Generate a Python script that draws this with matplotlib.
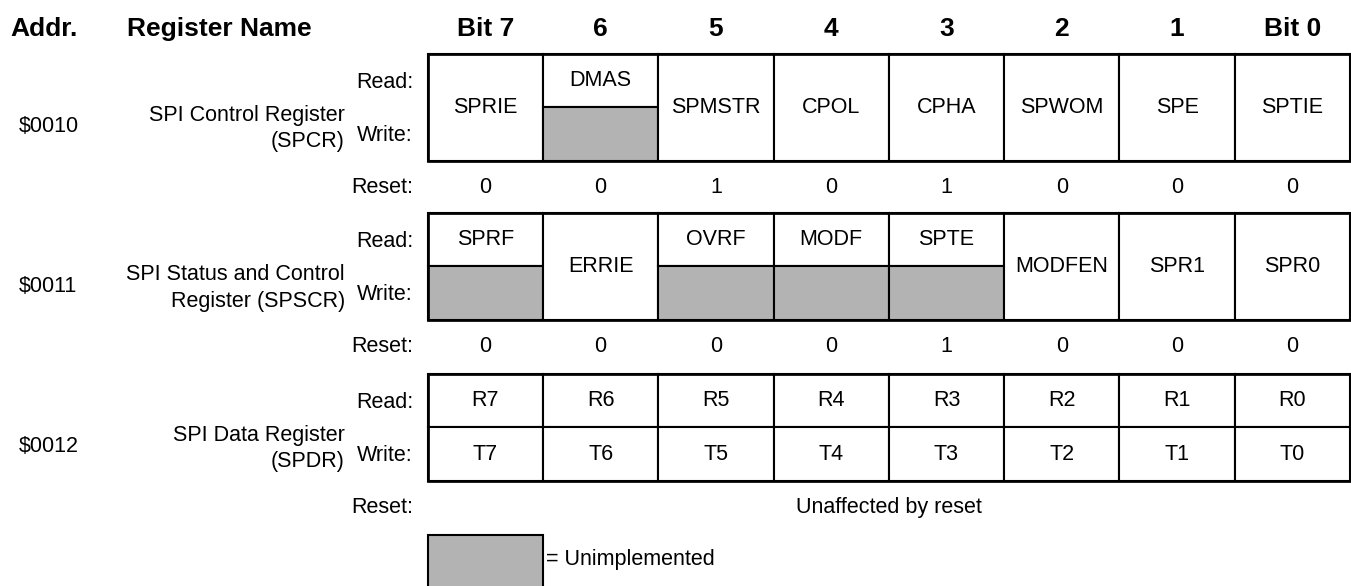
import matplotlib.pyplot as plt
from matplotlib.patches import Rectangle

plt.rcParams['font.family'] = ['Liberation Sans', 'DejaVu Sans']

# header
bit_labels = ["Bit 7", "6", "5", "4", "3", "2", "1", "Bit 0"]

# registers
addresses = ["$0010", "$0011", "$0012"]
reg_names = [["SPI Control Register", "(SPCR)"],
             ["SPI Status and Control", "Register (SPSCR)"],
             ["SPI Data Register", "(SPDR)"]]
# read / write field names; same name in both = one merged cell, None = unimplemented
read_fields = [
    ["SPRIE", "DMAS", "SPMSTR", "CPOL", "CPHA", "SPWOM", "SPE", "SPTIE"],
    ["SPRF", "ERRIE", "OVRF", "MODF", "SPTE", "MODFEN", "SPR1", "SPR0"],
    ["R7", "R6", "R5", "R4", "R3", "R2", "R1", "R0"],
]
write_fields = [
    ["SPRIE", None, "SPMSTR", "CPOL", "CPHA", "SPWOM", "SPE", "SPTIE"],
    [None, "ERRIE", None, None, None, "MODFEN", "SPR1", "SPR0"],
    ["T7", "T6", "T5", "T4", "T3", "T2", "T1", "T0"],
]
reset_values = [
    ["0", "0", "1", "0", "1", "0", "0", "0"],
    ["0", "0", "0", "0", "1", "0", "0", "0"],
    None,
]
reset_note = "Unaffected by reset"
legend_text = "= Unimplemented"

GRAY = "#b3b3b3"
LW = 1.5
FS = 15.5
HFS = 19

W, H = 1351, 586
fig = plt.figure(figsize=(W / 100, H / 100), dpi=100)
ax = fig.add_axes([0, 0, 1, 1])
ax.set_xlim(0, W)
ax.set_ylim(H, 0)
ax.axis("off")

x0 = 427.7
cw = (1350 - x0) / 8
box_tops = [54, 213, 374]
bh = 106.7

# headers
ax.text(10, 29, "Addr.", fontsize=HFS, fontweight="bold", va="center", ha="left")
ax.text(127, 29, "Register Name", fontsize=HFS, fontweight="bold", va="center", ha="left")
for i, b in enumerate(bit_labels):
    ax.text(x0 + cw * (i + 0.5), 29, b, fontsize=HFS, fontweight="bold",
            va="center", ha="center")

for r in range(3):
    top = box_tops[r]
    mid = top + bh / 2
    ax.text(19, top + 73, addresses[r], fontsize=FS, va="center", ha="left")
    ax.text(345, top + 61, reg_names[r][0], fontsize=FS, va="center", ha="right")
    ax.text(345, top + 88, reg_names[r][1], fontsize=FS, va="center", ha="right")
    ax.text(413, top + bh * 0.25 + 1.5, "Read:", fontsize=FS, va="center", ha="right")
    ax.text(413, top + bh * 0.75 + 1, "Write:", fontsize=FS, va="center", ha="right")
    ax.text(413, top + bh + 27, "Reset:", fontsize=FS, va="center", ha="right")

    for i in range(8):
        cx = x0 + cw * i
        rd, wr = read_fields[r][i], write_fields[r][i]
        if rd == wr:
            ax.add_patch(Rectangle((cx, top), cw, bh, fc="white", ec="black", lw=LW))
            ax.text(cx + cw / 2, mid, rd, fontsize=FS, va="center", ha="center")
        else:
            ax.add_patch(Rectangle((cx, top), cw, bh / 2, fc="white", ec="black", lw=LW))
            ax.add_patch(Rectangle((cx, mid), cw, bh / 2,
                                   fc=GRAY if wr is None else "white", ec="black", lw=LW))
            ax.text(cx + cw / 2, top + bh * 0.25, rd, fontsize=FS, va="center", ha="center")
            if wr is not None:
                ax.text(cx + cw / 2, top + bh * 0.75, wr, fontsize=FS,
                        va="center", ha="center")
    # outer frame
    ax.add_patch(Rectangle((x0, top), cw * 8, bh, fc="none", ec="black", lw=LW * 1.3))

    if reset_values[r] is None:
        ax.text(x0 + cw * 4, top + bh + 27, reset_note, fontsize=FS, va="center", ha="center")
    else:
        for i, v in enumerate(reset_values[r]):
            ax.text(x0 + cw * (i + 0.5), top + bh + 27, v, fontsize=FS,
                    va="center", ha="center")

# legend
ax.add_patch(Rectangle((x0, 535), cw, 60, fc=GRAY, ec="black", lw=LW, clip_on=False))
ax.text(x0 + cw + 3, 559, legend_text, fontsize=FS, va="center", ha="left")

fig.savefig("out.png", dpi=100)
